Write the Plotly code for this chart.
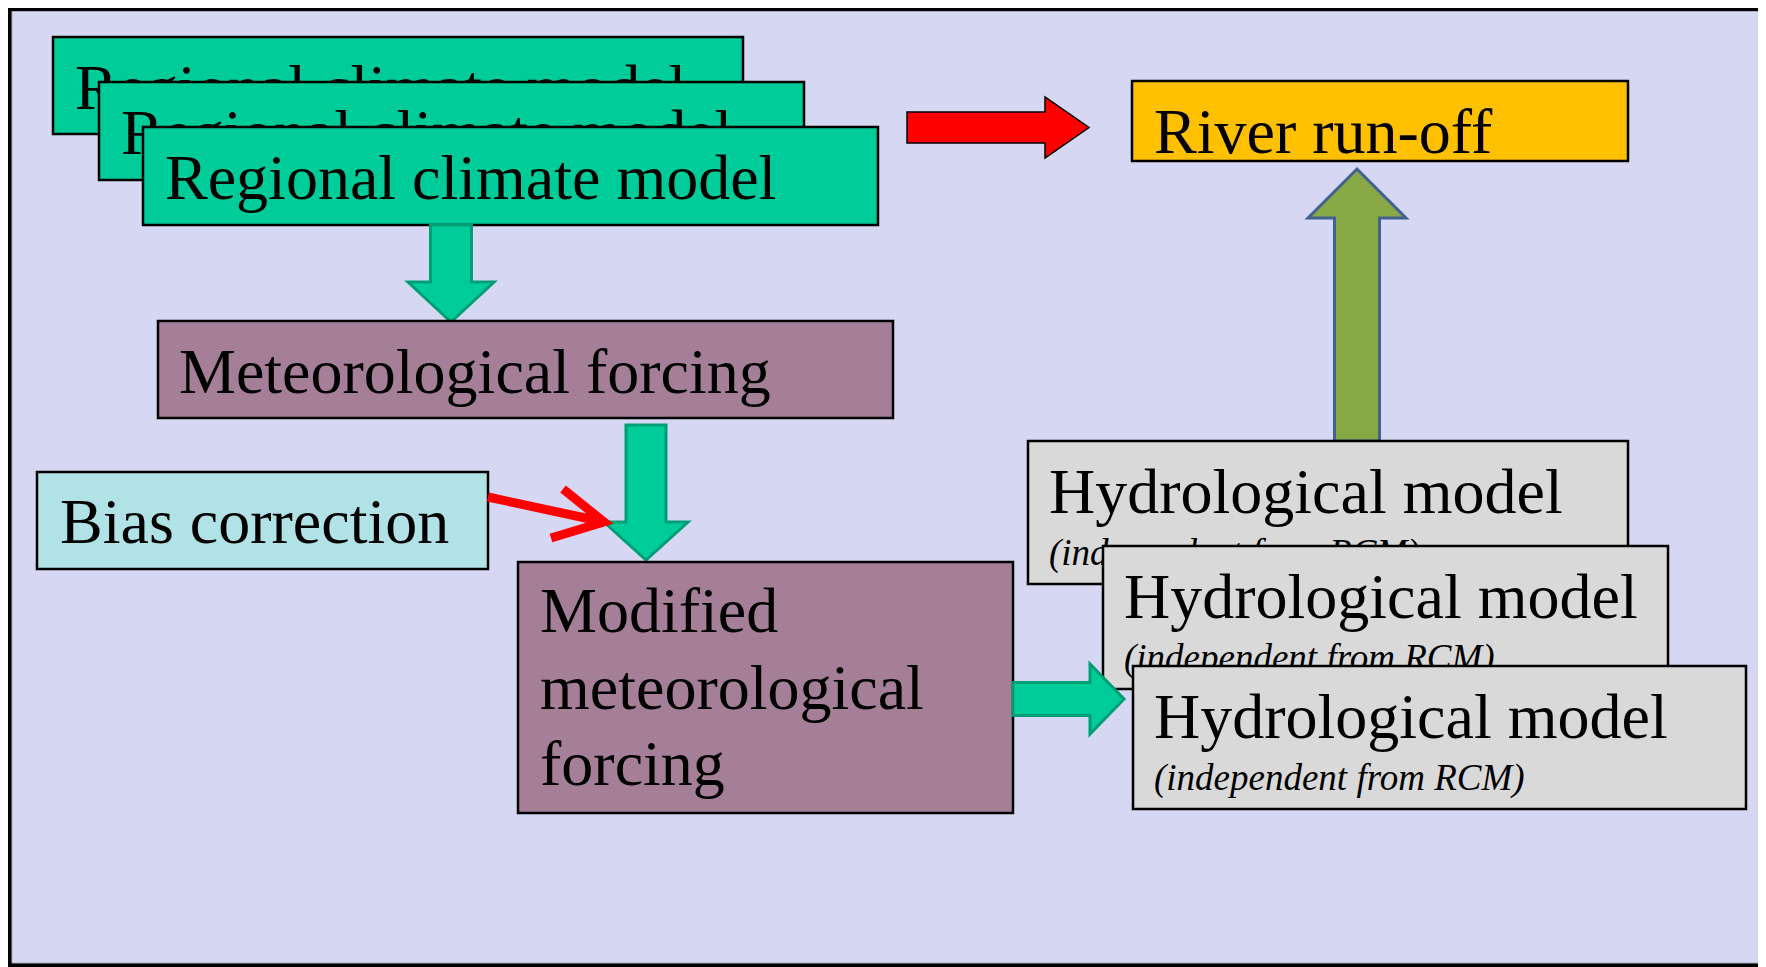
import math

import plotly.graph_objects as go

W, H = 1766, 967
OFF = 8  # page body margin; axes are set so 1 data unit = 1 page pixel

# ---- text content ----
rcm_labels = ["Regional climate model", "Regional climate model", "Regional climate model"]
hydro_labels = ["Hydrological model", "Hydrological model", "Hydrological model"]
hydro_notes = ["(independent from RCM)", "(independent from RCM)", "(independent from RCM)"]
meteo_label = "Meteorological forcing"
bias_label = "Bias correction"
runoff_label = "River run-off"
modified_lines = ["Modified", "meteorological", "forcing"]

# ---- box geometry (x0, y0, x1, y1), pixels from top-left ----
rcm_boxes = [(53, 37, 743, 134), (99, 82, 804, 180), (143, 127, 878, 225)]
hydro_boxes = [(1028, 441, 1628, 584), (1103, 546, 1668, 689), (1133, 666, 1746, 809)]
meteo_box = (158, 321, 893, 418)
bias_box = (37, 472, 488, 569)
runoff_box = (1132, 81, 1628, 161)
modified_box = (518, 562, 1013, 813)

# ---- block arrows: tail, tip, shaft width, head width, head length ----
arrow_rcm_meteo = ((451, 225), (451, 322), 41, 86, 40)
arrow_meteo_mod = ((646, 425), (646, 560), 40, 84, 38)
arrow_mod_hydro = ((1013, 699), (1124, 699), 33, 70, 34)
arrow_rcm_runoff = ((907, 127.5), (1089, 127.5), 31, 61, 44)
arrow_hydro_runoff = ((1357, 441), (1357, 169), 45, 98, 49)

FONT = "Liberation Serif"
BIG = 64
SMALL = 37

GREEN = "#00CC99"
GREEN_EDGE = "#009E74"
MAUVE = "#A57F98"
GREY = "#D9D9D9"

shapes = []


def box(b, fill, lw=2.5):
    shapes.append(dict(type="rect", x0=b[0], y0=b[1], x1=b[2], y1=b[3],
                       fillcolor=fill, line=dict(color="black", width=lw)))


def text(x, baseline, s, size=BIG, italic=False):
    # invisible carrier so the label keeps the shape stacking order
    shapes.append(dict(
        type="rect", x0=x - 3, x1=x + 7, y0=baseline - size, y1=baseline - size + 1,
        fillcolor="rgba(0,0,0,0)", line=dict(width=0),
        label=dict(text=f"<i>{s}</i>" if italic else s,
                   font=dict(family=FONT, size=size, color="black"),
                   textposition="top left", xanchor="left", yanchor="top", padding=0),
    ))


def block_arrow(spec, fill, edge, lw=3):
    (tx, ty), (px, py), sw, hw, hl = spec
    L = math.hypot(px - tx, py - ty)
    dx, dy = (px - tx) / L, (py - ty) / L
    nx, ny = -dy, dx
    bx, by = px - dx * hl, py - dy * hl
    pts = [
        (tx + nx * sw / 2, ty + ny * sw / 2),
        (bx + nx * sw / 2, by + ny * sw / 2),
        (bx + nx * hw / 2, by + ny * hw / 2),
        (px, py),
        (bx - nx * hw / 2, by - ny * hw / 2),
        (bx - nx * sw / 2, by - ny * sw / 2),
        (tx - nx * sw / 2, ty - ny * sw / 2),
    ]
    path = "M" + " L".join(f"{x:.1f},{y:.1f}" for x, y in pts) + " Z"
    shapes.append(dict(type="path", path=path, fillcolor=fill, line=dict(color=edge, width=lw)))


# frame: black surround, lavender panel
shapes.append(dict(type="rect", x0=OFF, y0=OFF, x1=W, y1=H,
                   fillcolor="black", line=dict(width=0)))
shapes.append(dict(type="rect", x0=12, y0=11.5, x1=1760, y1=963,
                   fillcolor="#D6D7F3", line=dict(color="#A9AAC0", width=1)))

# regional climate model stack
for b, s in zip(rcm_boxes, rcm_labels):
    box(b, GREEN)
    text(b[0] + 22, b[1] + 72, s)

block_arrow(arrow_rcm_meteo, GREEN, GREEN_EDGE)

box(meteo_box, MAUVE)
text(meteo_box[0] + 21, meteo_box[1] + 72, meteo_label)

block_arrow(arrow_meteo_mod, GREEN, GREEN_EDGE)

box(bias_box, "#B0E2E6")
text(bias_box[0] + 23, bias_box[1] + 71, bias_label)
shapes.append(dict(type="path", path="M488,497 L604,522 M563,489 L604,522 L551,538",
                   fillcolor="rgba(0,0,0,0)", line=dict(color="#FF0000", width=9)))

box(modified_box, MAUVE)
for i, s in enumerate(modified_lines):
    text(modified_box[0] + 22, modified_box[1] + 70 + i * 76.5, s)

block_arrow(arrow_rcm_runoff, "#FF0000", "black", lw=1.5)

box(runoff_box, "#FFC000")
text(runoff_box[0] + 22, runoff_box[1] + 72, runoff_label)

block_arrow(arrow_hydro_runoff, "#88A846", "#41618F")

for b, s, n in zip(hydro_boxes, hydro_labels, hydro_notes):
    box(b, GREY)
    text(b[0] + 21, b[1] + 72, s)
    text(b[0] + 21, b[1] + 124, n, size=SMALL, italic=True)

block_arrow(arrow_mod_hydro, GREEN, GREEN_EDGE)

fig = go.Figure(go.Scatter(x=[], y=[], showlegend=False))
fig.update_layout(
    width=W - OFF,
    height=H - OFF,
    margin=dict(l=0, r=0, t=0, b=0),
    paper_bgcolor="white",
    plot_bgcolor="white",
    shapes=shapes,
    xaxis=dict(range=[OFF, W], visible=False, fixedrange=True),
    yaxis=dict(range=[H, OFF], visible=False, fixedrange=True),
)

fig.write_html("out.html")
